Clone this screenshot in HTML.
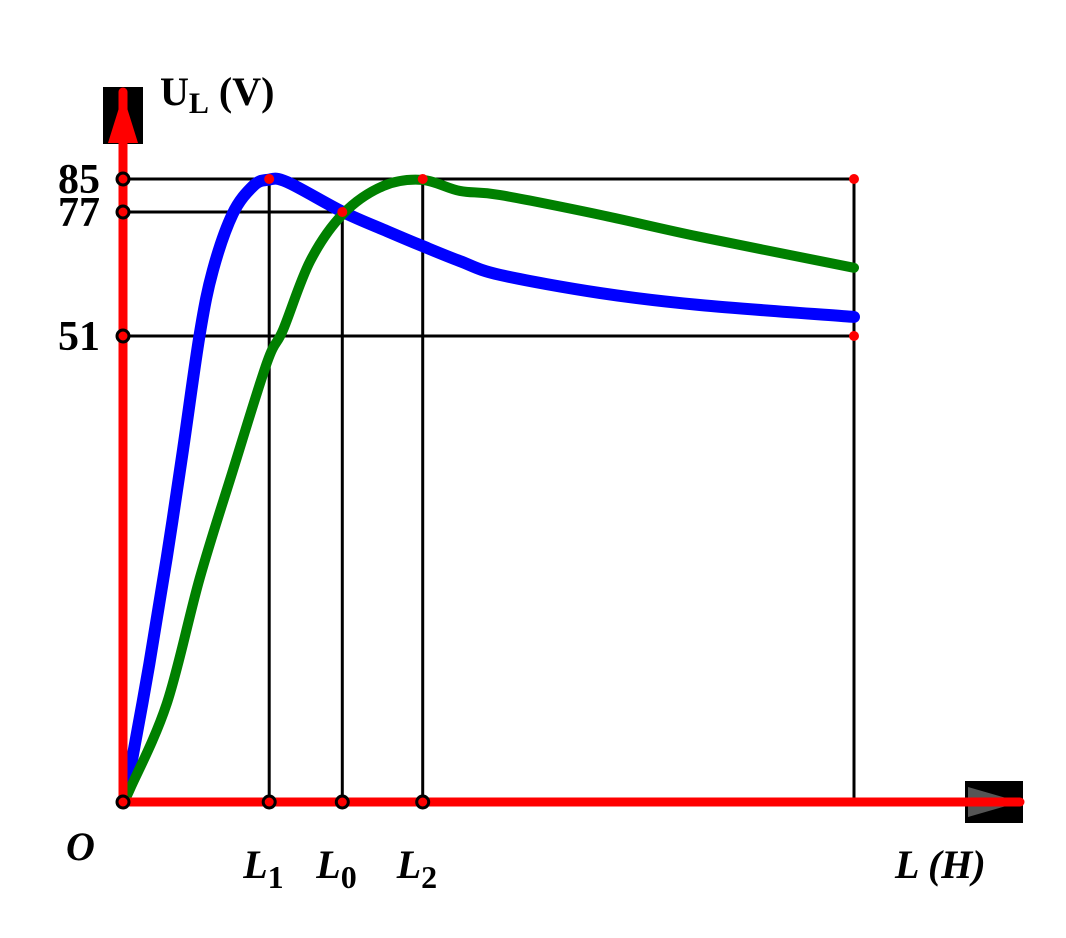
<!DOCTYPE html>
<html><head><meta charset="utf-8"><style>
html,body{margin:0;padding:0;background:#fff}
svg{display:block}
text{font-family:"Liberation Serif",serif;font-weight:bold;fill:#000}
</style></head><body>
<svg id="chart" width="1066" height="938" viewBox="0 0 1066 938" xmlns="http://www.w3.org/2000/svg">
<rect x="103" y="87" width="40" height="57" fill="#000"/>
<rect x="965" y="781" width="58" height="42" fill="#000"/>
<g id="guides"></g>
<g id="curves"></g>
<line x1="123" y1="802" x2="123" y2="92" stroke="#f00" stroke-width="9" stroke-linecap="round"/>
<polygon points="123,95 108,143 138,143" fill="#f00"/>
<line x1="123" y1="802" x2="1020" y2="802" stroke="#f00" stroke-width="9" stroke-linecap="round"/>
<polygon points="1020,802 968,787 968,817" fill="#555"/>
<line x1="968" y1="802" x2="1020" y2="802" stroke="#f00" stroke-width="9"/>
<g id="markers"></g>
<text x="160" y="105" font-size="40">U<tspan font-size="30" dy="8">L</tspan><tspan dy="-8"> (V)</tspan></text>
<g id="labels"></g>
<text x="66" y="860" font-size="40" font-style="italic">O</text>
<text x="895" y="878" font-size="40" font-style="italic">L (H)</text>
</svg>
<script>
const yTickValues=[0,51,77,85];
const yTickPx=[802,336,212,179];
const yTickLabels=["51","77","85"];
const xMarkValues=[20,30,41];
const xMarkLabels=["1","0","2"];
const xEnd=100;
const blueX=[0,0.96,3.6,6.0,8.2,10.5,12.3,15.0,17.8,19.8,22.4,30.1,36.1,40.9,46.1,51.6,65.3,78.9,100];
const blueY=[0,3.4,15.1,26.8,38.5,51.4,64.8,76.6,83.3,84.8,84.3,77,73.0,69.9,66.7,63.8,60.0,57.5,55.0];
const greenX=[0,1.0,6.0,10.5,15.0,19.7,21.9,25.6,30.1,35.6,40.9,46.1,51.6,65.3,78.9,100];
const greenY=[0,1.5,10.8,24.5,36.2,48.1,52.3,66.7,76.6,83.3,84.8,82.1,81.1,76.4,71.8,65.3];
const NS="http://www.w3.org/2000/svg";
function xs(v){return 123+v*7.31;}
function ys(v){
  for(let i=0;i<yTickValues.length-1;i++){
    const a=yTickValues[i],b=yTickValues[i+1];
    if(v<=b||i===yTickValues.length-2){
      return yTickPx[i]+(v-a)/(b-a)*(yTickPx[i+1]-yTickPx[i]);
    }
  }
}
function mk(tag,attrs,parent){const e=document.createElementNS(NS,tag);for(const k in attrs)e.setAttribute(k,attrs[k]);parent.appendChild(e);return e;}
function pathD(X,Y){
  const p=X.map((x,i)=>[xs(x),ys(Y[i])]);
  let d="M"+p[0][0]+","+p[0][1];
  for(let i=0;i<p.length-1;i++){
    const p0=p[Math.max(0,i-1)],p1=p[i],p2=p[i+1],p3=p[Math.min(p.length-1,i+2)];
    const c1=[p1[0]+(p2[0]-p0[0])/6,p1[1]+(p2[1]-p0[1])/6];
    const c2=[p2[0]-(p3[0]-p1[0])/6,p2[1]-(p3[1]-p1[1])/6];
    d+=" C"+c1+" "+c2+" "+p2;
  }
  return d;
}
const guides=document.getElementById('guides');
const curves=document.getElementById('curves');
const markers=document.getElementById('markers');
const labels=document.getElementById('labels');
const maxV=yTickValues[3], midV=yTickValues[2], lowV=yTickValues[1];
// horizontal guides
let g;
g=mk('line',{x1:xs(0),y1:ys(maxV),x2:xs(xEnd),y2:ys(maxV),stroke:'#000','stroke-width':3},guides);


g=mk('line',{x1:xs(0),y1:ys(midV),x2:xs(xMarkValues[1]),y2:ys(midV),stroke:'#000','stroke-width':3},guides);


g=mk('line',{x1:xs(0),y1:ys(lowV),x2:xs(xEnd),y2:ys(lowV),stroke:'#000','stroke-width':3},guides);


// vertical guides
const vTops=[maxV,midV,maxV];
xMarkValues.forEach((v,i)=>{
  const l=mk('line',{x1:xs(v),y1:ys(vTops[i]),x2:xs(v),y2:ys(0),stroke:'#000','stroke-width':3},guides);
  
  
});
g=mk('line',{x1:xs(xEnd),y1:ys(maxV),x2:xs(xEnd),y2:ys(0),stroke:'#000','stroke-width':3},guides);


// curves
const gp=mk('path',{d:pathD(greenX,greenY),fill:'none',stroke:'#008000','stroke-width':10,'stroke-linecap':'round'},curves);


const bp=mk('path',{d:pathD(blueX,blueY),fill:'none',stroke:'#0000ff','stroke-width':12,'stroke-linecap':'round'},curves);


curves.appendChild(gp);
// axis markers (open circles)
[0,lowV,midV,maxV].forEach(v=>{
  const c=mk('circle',{cx:xs(0),cy:ys(v),r:6,fill:'#f00',stroke:'#000','stroke-width':3},markers);
  
  
});
xMarkValues.forEach((v,i)=>{
  const c=mk('circle',{cx:xs(v),cy:ys(0),r:6,fill:'#f00',stroke:'#000','stroke-width':3},markers);
  
  
});
// red dots
[[xMarkValues[0],maxV],[xMarkValues[1],midV],[xMarkValues[2],maxV],[xEnd,maxV],[xEnd,lowV]].forEach((p,i)=>{
  const c=mk('circle',{cx:xs(p[0]),cy:ys(p[1]),r:5,fill:'#f00'},markers);
  
  
});
// y labels
yTickLabels.forEach((t,i)=>{
  const v=yTickValues[i+1];
  const tx=mk('text',{x:100,y:ys(v)+14,'font-size':42,'text-anchor':'end'},labels);
  tx.textContent=t;
  
  
});
// x labels
xMarkValues.forEach((v,i)=>{
  const tx=mk('text',{x:xs(v)-26,y:878,'font-size':40,'font-style':'italic'},labels);
  tx.textContent='L';
  const s=document.createElementNS(NS,'tspan');
  s.setAttribute('font-size','32');s.setAttribute('font-style','normal');s.setAttribute('dy','10');
  s.textContent=xMarkLabels[i];
  tx.appendChild(s);
  
  
});
</script>
</body></html>
